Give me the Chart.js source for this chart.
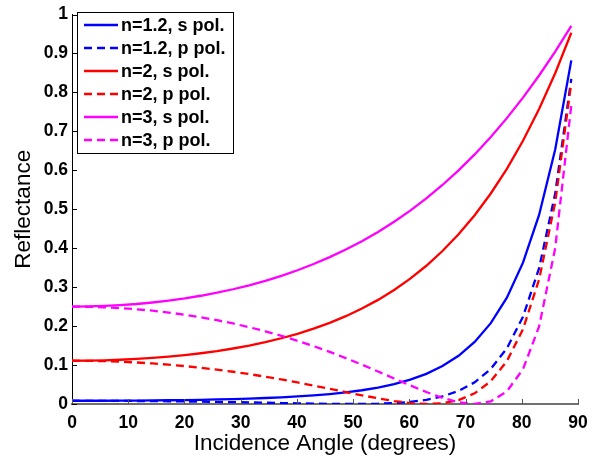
<!DOCTYPE html>
<html>
<head>
<meta charset="utf-8">
<script src="https://cdn.jsdelivr.net/npm/chart.js@4.4.1/dist/chart.umd.min.js"></script>
<style>
  html, body { margin: 0; padding: 0; background: #fff; }
  #wrap { width: 613px; height: 459px; }
</style>
</head>
<body>
<div id="wrap"><canvas id="chart" width="613" height="459"></canvas></div>
<script>
// incidence angles (degrees)
const angles = [0, 2.865, 5.730, 8.594, 11.459, 14.324, 17.189, 20.054, 22.918, 25.783,
  28.648, 31.513, 34.377, 37.242, 40.107, 42.972, 45.837, 48.701, 51.566, 54.431,
  57.296, 60.161, 63.025, 65.890, 68.755, 71.620, 74.485, 77.349, 80.214, 83.079,
  85.944, 88.808];

const n12s = [0.0083, 0.0083, 0.0084, 0.0086, 0.0088, 0.0092, 0.0096, 0.0102, 0.0108, 0.0117,
  0.0127, 0.0139, 0.0154, 0.0172, 0.0194, 0.0222, 0.0256, 0.0299, 0.0353, 0.0422,
  0.0510, 0.0625, 0.0775, 0.0974, 0.1238, 0.1594, 0.2076, 0.2731, 0.3628, 0.4854,
  0.6533, 0.8822];
const n12p = [0.0083, 0.0082, 0.0081, 0.0080, 0.0077, 0.0074, 0.0070, 0.0066, 0.0060, 0.0054,
  0.0048, 0.0041, 0.0033, 0.0025, 0.0018, 0.0010, 0.0004, 0.0001, 0.0001, 0.0007,
  0.0023, 0.0053, 0.0107, 0.0195, 0.0336, 0.0557, 0.0899, 0.1428, 0.2241, 0.3488,
  0.5403, 0.8348];
const n2s = [0.1111, 0.1114, 0.1122, 0.1136, 0.1156, 0.1183, 0.1216, 0.1255, 0.1303, 0.1359,
  0.1425, 0.1500, 0.1588, 0.1688, 0.1802, 0.1934, 0.2084, 0.2255, 0.2450, 0.2673,
  0.2928, 0.3218, 0.3549, 0.3927, 0.4357, 0.4847, 0.5405, 0.6038, 0.6758, 0.7572,
  0.8493, 0.9531];
const n2p = [0.1111, 0.1108, 0.1100, 0.1086, 0.1066, 0.1041, 0.1010, 0.0973, 0.0931, 0.0882,
  0.0828, 0.0768, 0.0702, 0.0630, 0.0554, 0.0474, 0.0391, 0.0306, 0.0223, 0.0145,
  0.0076, 0.0025, 0.0000, 0.0018, 0.0099, 0.0273, 0.0585, 0.1101, 0.1920, 0.3197,
  0.5175, 0.8251];
const n3s = [0.2500, 0.2504, 0.2517, 0.2538, 0.2567, 0.2606, 0.2654, 0.2711, 0.2779, 0.2857,
  0.2946, 0.3048, 0.3162, 0.3291, 0.3434, 0.3593, 0.3770, 0.3965, 0.4180, 0.4418,
  0.4679, 0.4965, 0.5279, 0.5623, 0.5999, 0.6408, 0.6854, 0.7339, 0.7865, 0.8434,
  0.9048, 0.9710];
const n3p = [0.2500, 0.2496, 0.2483, 0.2462, 0.2433, 0.2395, 0.2348, 0.2292, 0.2226, 0.2151,
  0.2067, 0.1972, 0.1866, 0.1750, 0.1623, 0.1485, 0.1337, 0.1178, 0.1010, 0.0835,
  0.0656, 0.0478, 0.0307, 0.0157, 0.0045, 0.0000, 0.0068, 0.0324, 0.0893, 0.1989,
  0.4002, 0.7672];

const labels = ["n=1.2, s pol.", "n=1.2, p pol.", "n=2, s pol.", "n=2, p pol.", "n=3, s pol.", "n=3, p pol."];
const colors = ["#0000ff", "#0000ff", "#ff0000", "#ff0000", "#ff00ff", "#ff00ff"];
const seriesList = [n12s, n12p, n2s, n2p, n3s, n3p];
const xTicks = [0, 10, 20, 30, 40, 50, 60, 70, 80, 90];

const FONT = "'Liberation Sans', Arial, Helvetica, sans-serif";
const dashPattern = [8, 5];

let datasets = [];
for (let i = 0; i < seriesList.length; i++) {
  let pts = [];
  for (let j = 0; j < angles.length; j++) {
    pts.push({ x: angles[j], y: seriesList[i][j] });
  }
  datasets.push({
    label: labels[i],
    data: pts,
    borderColor: colors[i],
    backgroundColor: colors[i],
    borderWidth: 2.3,
    borderDash: i % 2 === 1 ? dashPattern : [],
    pointRadius: 0,
    tension: 0,
    fill: false,
    order: seriesList.length - i,
  });
}

// inward tick marks like matlab
const tickMarks = {
  id: "tickMarks",
  afterDraw(chart) {
    const ctx = chart.ctx;
    const xs = chart.scales.x;
    const ys = chart.scales.y;
    const area = chart.chartArea;
    ctx.save();
    ctx.lineWidth = 1;
    ctx.strokeStyle = "#555";
    xTicks.forEach((v) => {
      const px = Math.round(xs.getPixelForValue(v)) + 0.5;
      ctx.beginPath();
      ctx.moveTo(px, area.bottom);
      ctx.lineTo(px, area.bottom - 5);
      ctx.stroke();
    });
    ctx.strokeStyle = "#000";
    ys.ticks.forEach((t) => {
      const py = Math.round(ys.getPixelForValue(t.value)) + 0.5;
      ctx.beginPath();
      ctx.moveTo(area.left, py);
      ctx.lineTo(area.left + 5, py);
      ctx.stroke();
    });
    ctx.restore();
  },
};

// boxed legend in the top left corner
const boxLegend = {
  id: "boxLegend",
  afterDraw(chart) {
    const ctx = chart.ctx;
    const bx = 77, by = 12, bw = 156, bh = 141;
    ctx.save();
    ctx.fillStyle = "#fff";
    ctx.fillRect(bx, by, bw, bh);
    ctx.strokeStyle = "#000";
    ctx.lineWidth = 1;
    ctx.strokeRect(bx + 0.5, by + 0.5, bw, bh);
    chart.data.datasets.forEach((ds, i) => {
      const y = by + 13 + i * 23;
      ctx.strokeStyle = ds.borderColor;
      ctx.lineWidth = 2.3;
      ctx.setLineDash(ds.borderDash);
      ctx.beginPath();
      ctx.moveTo(84, y);
      ctx.lineTo(118, y);
      ctx.stroke();
      ctx.setLineDash([]);
      ctx.fillStyle = "#000";
      ctx.font = "bold 18px " + FONT;
      ctx.textBaseline = "middle";
      ctx.textAlign = "left";
      ctx.fillText(ds.label, 121, y + 1);
    });
    ctx.restore();
  },
};

new Chart(document.getElementById("chart"), {
  type: "line",
  data: { datasets: datasets },
  plugins: [tickMarks, boxLegend],
  options: {
    responsive: false,
    animation: false,
    layout: { padding: { left: 0, right: 35, top: 5, bottom: 0 } },
    plugins: { legend: { display: false }, tooltip: { enabled: false } },
    scales: {
      x: {
        type: "linear",
        min: 0,
        max: 90,
        afterBuildTicks: (scale) => {
          scale.ticks = xTicks.map((v) => ({ value: v }));
        },
        afterFit: (scale) => { scale.height = 55; },
        grid: { display: false, drawTicks: false },
        border: { display: true, color: "#707070", width: 2 },
        ticks: {
          color: "#000",
          padding: 9,
          maxRotation: 0,
          font: { family: FONT, size: 17.5, weight: "bold" },
        },
        title: {
          display: true,
          text: "Incidence Angle (degrees)",
          color: "#000",
          padding: { top: 0, bottom: 2 },
          font: { family: FONT, size: 22.5 },
        },
      },
      y: {
        min: 0,
        max: 1,
        afterFit: (scale) => { scale.width = 72; },
        grid: { display: false, drawTicks: false },
        border: { display: true, color: "#000", width: 1 },
        ticks: {
          stepSize: 0.1,
          color: "#000",
          padding: 4,
          font: { family: FONT, size: 17.5, weight: "bold" },
          callback: (v) => String(Math.round(v * 10) / 10),
        },
        title: {
          display: true,
          text: "Reflectance",
          color: "#000",
          padding: { top: 10, bottom: 4 },
          font: { family: FONT, size: 22.5 },
        },
      },
    },
  },
});
</script>
</body>
</html>
